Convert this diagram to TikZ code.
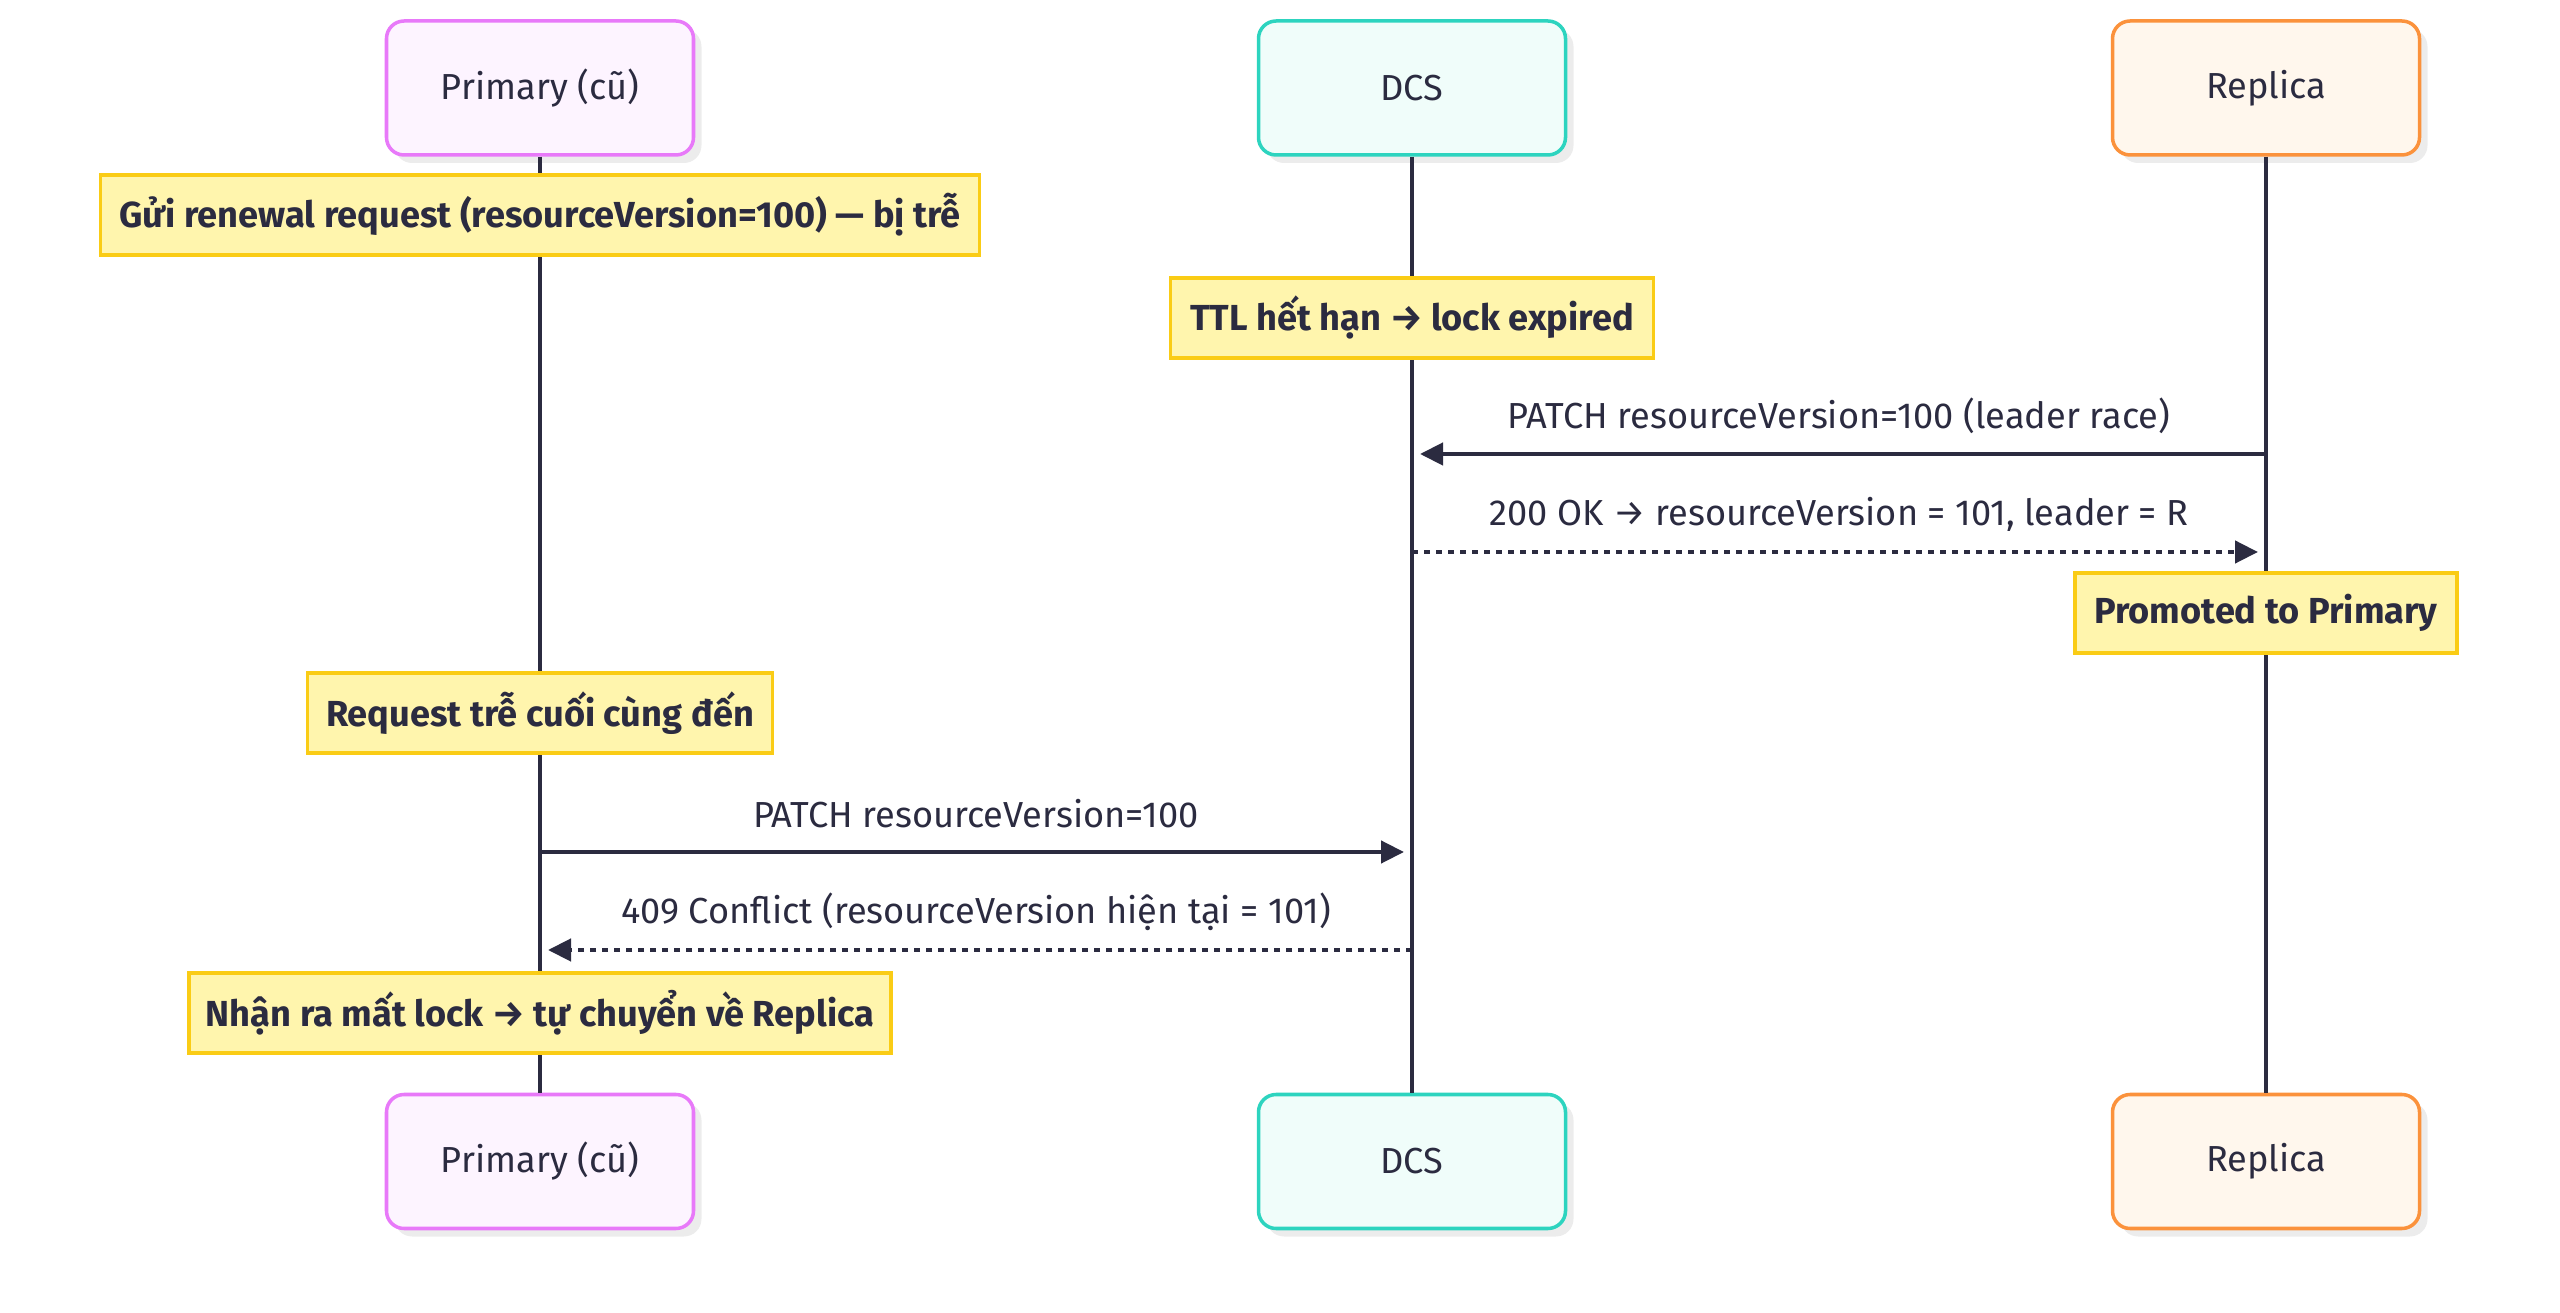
\documentclass[tikz,border=0pt]{standalone}
\usepackage{fontspec}
\setmainfont{Fira Sans}
\usetikzlibrary{positioning,arrows.meta,calc,shadows}
\definecolor{cink}{HTML}{2B2B40}
\definecolor{cpri}{HTML}{E879F9}
\definecolor{cprif}{HTML}{FDF4FF}
\definecolor{cdcs}{HTML}{2DD4BF}
\definecolor{cdcsf}{HTML}{F0FDFA}
\definecolor{crep}{HTML}{FB923C}
\definecolor{crepf}{HTML}{FFF7ED}
\definecolor{cnote}{HTML}{FFF5AD}
\definecolor{cnoted}{HTML}{FACC15}
\definecolor{cshad}{HTML}{ECECEC}

\begin{document}
\begin{tikzpicture}[
  x=0.1mm, y=-0.1mm,
  font=\fontsize{10.3}{12}\selectfont, text=cink,
  >={Triangle[length=2.3mm, width=2.2mm]},
  actor/.style={rounded corners=5pt, draw, line width=1pt, align=center,
                minimum width=30.7mm, minimum height=13.4mm,
                drop shadow={shadow xshift=0.8mm, shadow yshift=-0.8mm, fill=cshad, opacity=1}},
  pri/.style={actor, fill=cprif, draw=cpri},
  dcs/.style={actor, fill=cdcsf, draw=cdcs},
  rep/.style={actor, fill=crepf, draw=crep},
  note/.style={draw=cnoted, fill=cnote, line width=1pt, minimum height=8mm,
               font=\fontsize{10.3}{12}\selectfont\bfseries},
  life/.style={draw=cink, line width=1.05pt},
  msg/.style={->, draw=cink, line width=1.25pt, shorten >=0.8mm},
  reply/.style={msg, dash pattern=on 0.6mm off 0.6mm},
  lbl/.style={midway, yshift=3.8mm, fill=none},
]
\useasboundingbox (0,0) rectangle (2560,1313);

% ---- participants ----
\node[pri] (ptop) at (540,88) {Primary (cũ)};
\node[dcs, right=56.15mm of ptop] (dtop) {DCS};
\node[rep, right=54.35mm of dtop] (rtop) {Replica};
\node[pri, below=93.6mm of ptop] (pbot) {Primary (cũ)};
\node[dcs, below=93.6mm of dtop] (dbot) {DCS};
\node[rep, below=93.6mm of rtop] (rbot) {Replica};

% ---- lifelines ----
\draw[life] (ptop) -- (pbot);
\draw[life] (dtop) -- (dbot);
\draw[life] (rtop) -- (rbot);

% ---- notes ----
\coordinate (y1) at (0,215);
\coordinate (y2) at (0,318);
\coordinate (y3) at (0,613);
\coordinate (y4) at (0,713);
\coordinate (y5) at (0,1013);
\node[note, minimum width=87.9mm] (n1) at (ptop |- y1) {Gửi renewal request (resourceVersion=100) — bị trễ};
\node[note, minimum width=48.3mm] (n2) at (dtop |- y2) {TTL hết hạn → lock expired};
\node[note, minimum width=38.2mm] (n3) at (rtop |- y3) {Promoted to Primary};
\node[note, minimum width=46.5mm] (n4) at (ptop |- y4) {Request trễ cuối cùng đến};
\node[note, minimum width=70.2mm] (n5) at (ptop |- y5) {Nhận ra mất lock → tự chuyển về Replica};

% ---- messages ----
\coordinate (m1) at (0,454);
\coordinate (m2) at (0,552);
\coordinate (m3) at (0,852);
\coordinate (m4) at (0,950);
\draw[msg] (rtop |- m1) -- node[lbl]{PATCH resourceVersion=100 (leader race)} (dtop |- m1);
\draw[reply] (dtop |- m2) -- node[lbl]{200 OK → resourceVersion = 101, leader = R} (rtop |- m2);
\draw[msg] (ptop |- m3) -- node[lbl]{PATCH resourceVersion=100} (dtop |- m3);
\draw[reply] (dtop |- m4) -- node[lbl]{409 Conflict (resourceVersion hiện tại = 101)} (ptop |- m4);
\end{tikzpicture}
\end{document}
